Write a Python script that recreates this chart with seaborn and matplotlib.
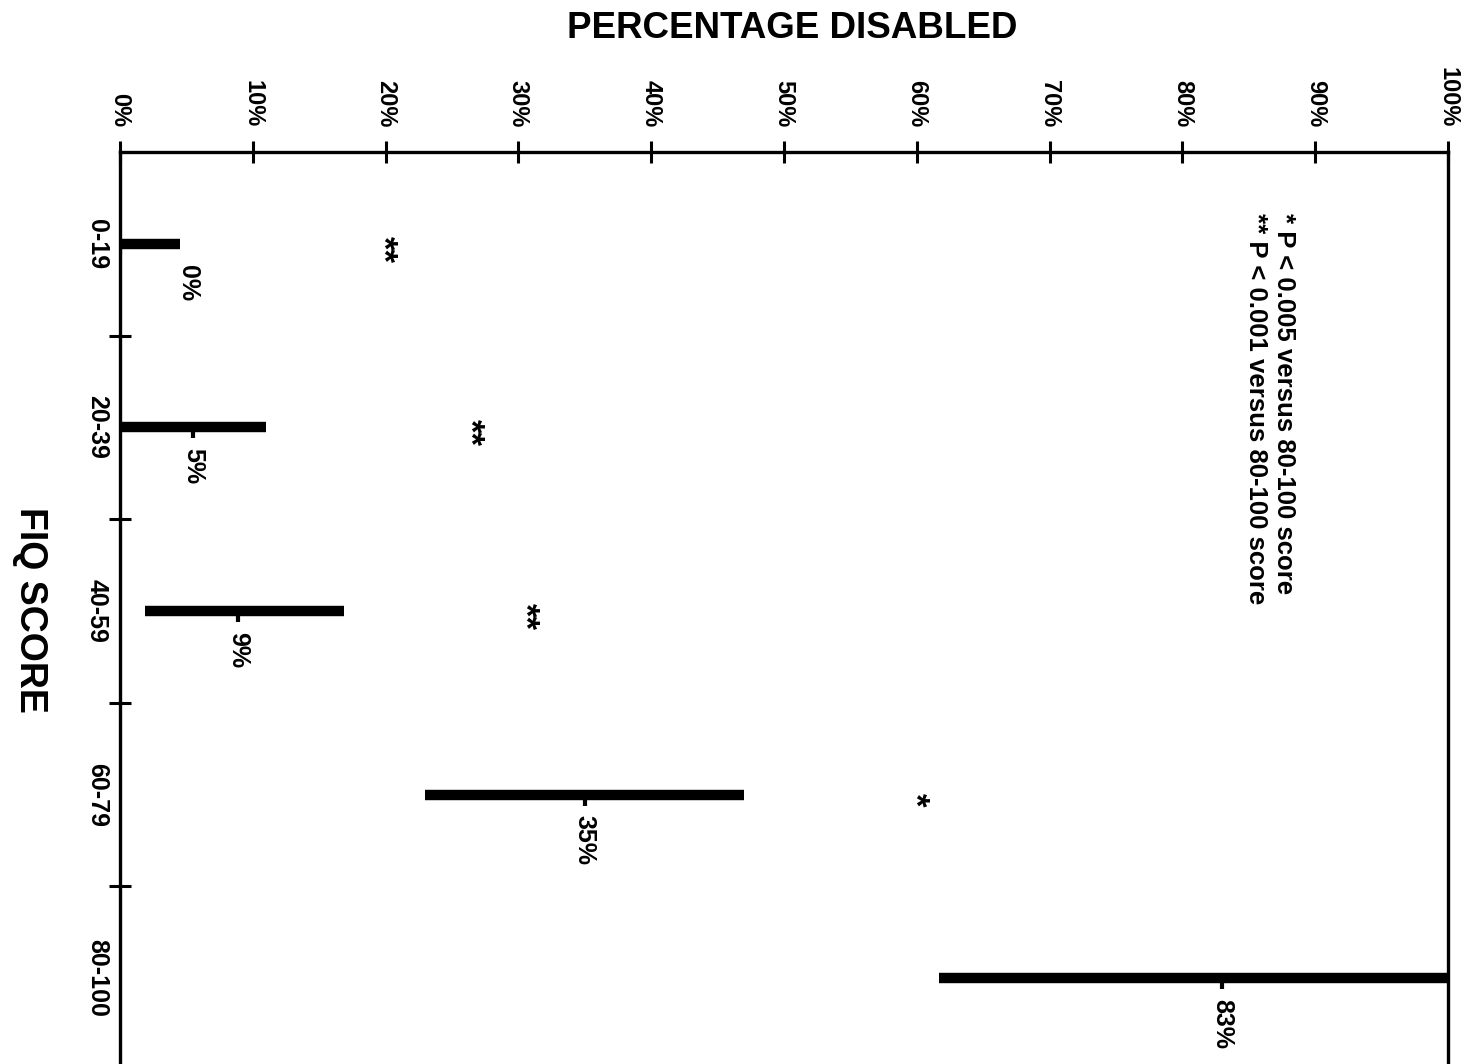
import numpy as np
import pandas as pd
import matplotlib
matplotlib.use("Agg")
import matplotlib.pyplot as plt
import seaborn as sns

# ---- data ----
categories = ["0-19", "20-39", "40-59", "60-79", "80-100"]
ci_low = [0.0, 0.0, 1.9, 23.0, 61.7]
ci_high = [4.5, 11.0, 16.9, 47.0, 100.0]
point_est = [0.0, 5.5, 8.9, 35.0, 83.0]
point_labels = ["0%", "5%", "9%", "35%", "83%"]
sig_marks = ["**", "**", "**", "*", ""]
sig_x = [19.8, 26.3, 30.5, 59.8, None]
x_ticks = [0, 10, 20, 30, 40, 50, 60, 70, 80, 90, 100]
x_tick_labels = [f"{t}%" for t in x_ticks]
legend_lines = ["* P < 0.005 versus 80-100 score", "** P < 0.001 versus 80-100 score"]

sns.set_theme(style="white")
plt.rcParams["font.family"] = ["Liberation Sans", "DejaVu Sans"]
plt.rcParams["font.weight"] = "bold"
for k in ["text.color", "axes.labelcolor", "xtick.color", "ytick.color", "axes.edgecolor"]:
    plt.rcParams[k] = "black"

W, H = 1475, 1064
fig = plt.figure(figsize=(W / 100, H / 100), dpi=100)
left, right, top, bottom = 120, 1448, 152, 1070
ax = fig.add_axes([left / W, 1 - bottom / H, (right - left) / W, (bottom - top) / H])

rows = []
for i, c in enumerate(categories):
    rows.append({"cat": c, "y": i, "x": ci_low[i]})
    rows.append({"cat": c, "y": i, "x": ci_high[i]})
df = pd.DataFrame(rows)

sns.lineplot(data=df, x="x", y="y", units="cat", estimator=None, sort=False,
             color="black", linewidth=7.5, ax=ax, legend=False,
             solid_capstyle="butt")

# point estimate notches, labels and significance marks
for i, p in enumerate(point_est):
    ax.plot([p, p], [i, i + 0.06], color="black", lw=3, solid_capstyle="butt")
    lx = p if p > 0 else ci_high[i] + 0.6
    ax.annotate(point_labels[i], xy=(lx, i), xytext=(0, -15), textcoords="offset points",
                rotation=-90, ha="center", va="top", fontsize=18, fontweight="bold")
    if sig_x[i] is not None:
        ax.annotate(sig_marks[i], xy=(sig_x[i], i), xytext=(0, -4), textcoords="offset points",
                    rotation=-90, ha="center", va="center", fontsize=25, fontweight="bold")

ax.text(86.6, -0.168, "\n".join(legend_lines), rotation=-90, ha="center", va="top",
        fontsize=18.5, fontweight="bold", multialignment="left", linespacing=1.25)

ax.set_xlim(0, 100)
ax.set_ylim(4.5, -0.5)

ax.xaxis.tick_top()
ax.set_xticks(x_ticks)
ax.set_xticklabels(x_tick_labels, rotation=-90, fontsize=17, fontweight="bold")
ax.tick_params(axis="x", which="major", direction="inout", length=16, width=2.2, pad=10,
               top=True, bottom=False, colors="black")

ax.set_yticks(range(len(categories)))
ax.set_yticklabels(categories, rotation=-90, fontsize=18, fontweight="bold", va="center")
ax.tick_params(axis="y", which="major", length=0, pad=8)
ax.set_yticks([0.5, 1.5, 2.5, 3.5], minor=True)
ax.tick_params(axis="y", which="minor", direction="inout", length=16, width=2.2, left=True)

for s in ["top", "left", "right"]:
    ax.spines[s].set_visible(True)
    ax.spines[s].set_color("black")
    ax.spines[s].set_linewidth(2.4)
ax.spines["bottom"].set_visible(False)

ax.set_xlabel("")
ax.set_ylabel("")
fig.text(792 / W, 1 - 28 / H, "PERCENTAGE DISABLED", ha="center", va="center",
         fontsize=26.5, fontweight="bold")
fig.text(30 / W, 1 - 610 / H, "FIQ SCORE", ha="center", va="center", rotation=-90,
         fontsize=27, fontweight="bold")

fig.savefig("out.png", dpi=100, facecolor="white")
